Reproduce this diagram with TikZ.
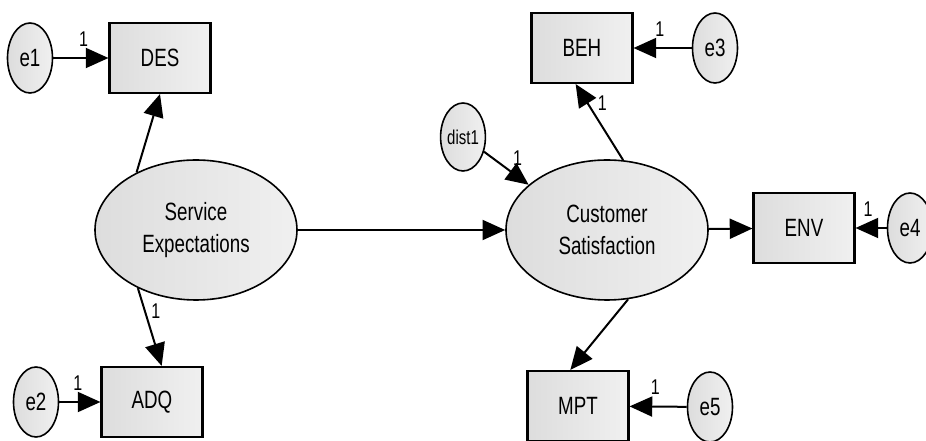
\documentclass[tikz,border=0pt]{standalone}
\usepackage{fontspec}
\newfontfamily\amosfont[FakeStretch=0.75]{Liberation Sans}
\usetikzlibrary{shapes.geometric,arrows.meta,positioning}

\tikzset{
  grayfill/.style={left color={rgb,255:red,221;green,221;blue,221},right color={rgb,255:red,240;green,240;blue,240}},
  obsbox/.style={draw,grayfill,line width=1.6pt,minimum width=75.75pt,minimum height=52.5pt,inner sep=0pt,font=\amosfont\fontsize{18.75}{22}\selectfont},
  latent/.style={ellipse,draw,grayfill,line width=1.2pt,minimum width=151.5pt,minimum height=105pt,inner sep=0pt,align=center,font=\amosfont\fontsize{18.75}{23.5}\selectfont},
  errvar/.style={ellipse,draw,grayfill,line width=1.2pt,minimum width=33.75pt,minimum height=52.5pt,inner sep=0pt,font=\amosfont\fontsize{18.75}{22}\selectfont},
  path/.style={line width=1.5pt,-{Triangle[length=17pt,width=15pt]}},
  wt/.style={font=\amosfont\fontsize{16}{18}\selectfont,inner sep=2pt}
}

\begin{document}
\begin{tikzpicture}[x=0.75pt,y=0.75pt,yscale=-1,xscale=1]
  \useasboundingbox (0,0) rectangle (926,441);

  % latent variables
  \node[latent] (SE) at (196,230) {Service\\Expectations};
  \node[latent] (CS) at (607,230) {Customer\\Satisfaction};
  \node[errvar,minimum width=30pt,minimum height=51pt,font=\amosfont\fontsize{15}{18}\selectfont] (dist1) at (463,137) {dist1};

  % indicators
  \node[obsbox] (DES) at (160,58) {DES};
  \node[obsbox] (ADQ) at (152,402) {ADQ};
  \node[obsbox] (BEH) at (582,48) {BEH};
  \node[obsbox] (ENV) at (804,228) {ENV};
  \node[obsbox] (MPT) at (578,406) {MPT};

  % error terms
  \node[errvar] (e1) at (30,58) {e1};
  \node[errvar] (e2) at (36,402) {e2};
  \node[errvar] (e3) at (715,48) {e3};
  \node[errvar] (e4) at (910,228) {e4};
  \node[errvar] (e5) at (710,407) {e5};

  % structural paths
  \draw[path] (SE) -- (CS);
  \draw[path] (dist1.-35) -- (CS.150) node[wt,pos=0.55,above right=1pt] {1};

  % measurement paths
  \draw[path] (SE.136) -- (DES.south);
  \draw[path] (SE.225) -- (ADQ.75) node[wt,pos=0.3,right=2pt] {1};
  \draw[path] (CS.77) -- (BEH.-100) node[wt,pos=0.75,right=5pt] {1};
  \draw[path] (CS) -- (ENV);
  \draw[path] (CS.-73) -- (MPT.102);

  % error paths
  \draw[path] (e1) -- (DES) node[wt,pos=0.55,above=6pt] {1};
  \draw[path] (e2) -- (ADQ) node[wt,pos=0.45,above=6pt] {1};
  \draw[path] (e3) -- (BEH) node[wt,pos=0.55,above=6pt] {1};
  \draw[path] (e4) -- (ENV) node[wt,pos=0.6,above=6pt] {1};
  \draw[path] (e5) -- (MPT) node[wt,pos=0.55,above=6pt] {1};
\end{tikzpicture}
\end{document}
